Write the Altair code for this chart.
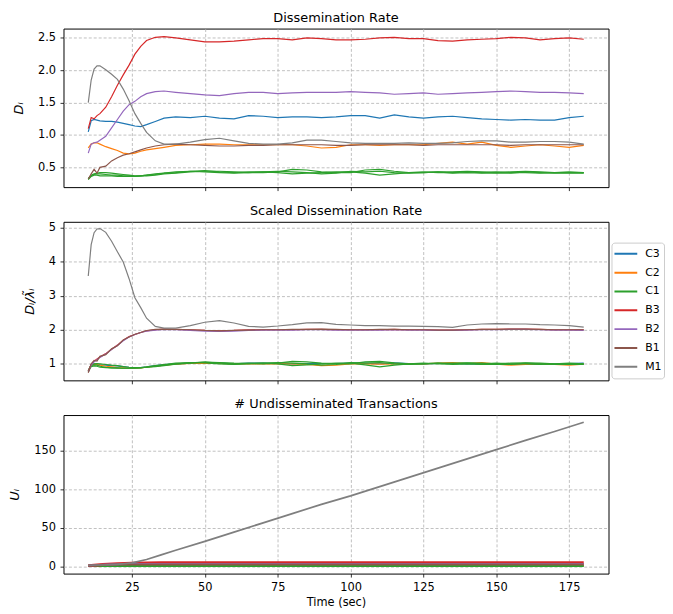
import altair as alt
import pandas as pd

# ---------------- data ----------------
T = [10, 11, 12, 13, 14, 16, 18, 20, 22, 24, 26, 28, 30, 33, 36,
     40, 45, 50, 55, 60, 65, 70, 75, 80, 85, 90, 95, 100, 105, 110, 115,
     120, 125, 130, 135, 140, 145, 150, 155, 160, 165, 170, 175, 180]

# Dissemination rate D_i
D_C3 = [1.05, 1.22, 1.24, 1.23, 1.22, 1.21, 1.21, 1.20, 1.18, 1.16, 1.14, 1.13, 1.16, 1.21, 1.26,
        1.28, 1.27, 1.29, 1.26, 1.25, 1.30, 1.29, 1.27, 1.28, 1.28, 1.27, 1.28, 1.30, 1.30, 1.26,
        1.31, 1.28, 1.26, 1.28, 1.29, 1.27, 1.25, 1.24, 1.23, 1.24, 1.23, 1.23, 1.27, 1.29]
D_C2 = [0.80, 0.86, 0.88, 0.88, 0.86, 0.82, 0.79, 0.76, 0.72, 0.71, 0.72, 0.75, 0.77, 0.79, 0.81,
        0.84, 0.85, 0.86, 0.86, 0.85, 0.85, 0.85, 0.85, 0.85, 0.83, 0.80, 0.81, 0.85, 0.85, 0.84,
        0.85, 0.85, 0.85, 0.87, 0.89, 0.86, 0.89, 0.84, 0.81, 0.83, 0.85, 0.83, 0.81, 0.84]
D_C1a = [0.32, 0.38, 0.40, 0.41, 0.42, 0.42, 0.41, 0.40, 0.39, 0.38, 0.37, 0.37, 0.37, 0.38, 0.40,
         0.41, 0.43, 0.44, 0.44, 0.43, 0.42, 0.42, 0.43, 0.47, 0.46, 0.43, 0.42, 0.42, 0.46, 0.47,
         0.44, 0.42, 0.42, 0.43, 0.43, 0.44, 0.43, 0.42, 0.43, 0.44, 0.43, 0.42, 0.42, 0.42]
D_C1b = [0.33, 0.37, 0.39, 0.40, 0.40, 0.39, 0.38, 0.38, 0.37, 0.37, 0.36, 0.37, 0.38, 0.39, 0.41,
         0.42, 0.44, 0.45, 0.43, 0.42, 0.43, 0.43, 0.42, 0.40, 0.41, 0.42, 0.43, 0.43, 0.41, 0.38,
         0.40, 0.42, 0.43, 0.42, 0.42, 0.43, 0.42, 0.43, 0.42, 0.42, 0.41, 0.42, 0.43, 0.42]
D_C1c = [0.31, 0.36, 0.38, 0.38, 0.37, 0.37, 0.37, 0.36, 0.36, 0.36, 0.36, 0.37, 0.38, 0.40, 0.41,
         0.43, 0.44, 0.43, 0.42, 0.41, 0.42, 0.43, 0.44, 0.43, 0.42, 0.40, 0.41, 0.44, 0.43, 0.44,
         0.42, 0.41, 0.42, 0.43, 0.41, 0.42, 0.41, 0.41, 0.41, 0.43, 0.42, 0.41, 0.41, 0.41]
D_B3 = [1.10, 1.27, 1.25, 1.30, 1.33, 1.43, 1.59, 1.77, 1.93, 2.08, 2.25, 2.37, 2.46, 2.51, 2.52,
        2.50, 2.47, 2.44, 2.44, 2.45, 2.47, 2.49, 2.49, 2.47, 2.50, 2.49, 2.47, 2.47, 2.48, 2.50,
        2.51, 2.49, 2.49, 2.46, 2.45, 2.47, 2.48, 2.49, 2.51, 2.50, 2.47, 2.49, 2.50, 2.48]
D_B2 = [0.72, 0.86, 0.88, 0.89, 0.92, 0.98, 1.11, 1.24, 1.37, 1.47, 1.52, 1.59, 1.64, 1.67, 1.68,
        1.66, 1.64, 1.62, 1.61, 1.64, 1.66, 1.66, 1.64, 1.65, 1.66, 1.66, 1.66, 1.67, 1.66, 1.65,
        1.63, 1.64, 1.65, 1.63, 1.64, 1.65, 1.66, 1.67, 1.68, 1.67, 1.66, 1.66, 1.65, 1.64]
D_B1 = [0.32, 0.40, 0.47, 0.41, 0.50, 0.52, 0.60, 0.65, 0.69, 0.71, 0.74, 0.77, 0.80, 0.83, 0.85,
        0.86, 0.85, 0.84, 0.83, 0.83, 0.84, 0.84, 0.85, 0.85, 0.85, 0.85, 0.84, 0.84, 0.85, 0.85,
        0.85, 0.85, 0.84, 0.85, 0.85, 0.85, 0.85, 0.85, 0.84, 0.85, 0.85, 0.85, 0.85, 0.85]
D_M1 = [1.50, 1.85, 2.02, 2.07, 2.07, 2.01, 1.94, 1.86, 1.71, 1.53, 1.33, 1.18, 1.04, 0.91, 0.86,
        0.86, 0.89, 0.93, 0.95, 0.91, 0.87, 0.86, 0.86, 0.88, 0.92, 0.92, 0.90, 0.88, 0.87, 0.87,
        0.87, 0.88, 0.87, 0.87, 0.88, 0.90, 0.91, 0.91, 0.89, 0.89, 0.90, 0.90, 0.89, 0.86]

# Scaled dissemination rate D_i / lambda_i
S_C3 = [0.80, 0.98, 1.00, 0.99, 0.97, 0.96, 0.95, 0.94, 0.92, 0.90, 0.89, 0.89, 0.91, 0.95, 0.98,
        1.00, 1.02, 1.04, 1.02, 1.00, 1.02, 1.02, 1.01, 1.00, 1.01, 1.01, 1.01, 1.02, 1.02, 1.00,
        1.03, 1.01, 1.00, 1.01, 1.01, 1.00, 0.99, 0.99, 0.98, 0.99, 0.99, 0.99, 1.01, 1.02]
S_C2 = [0.78, 0.96, 0.99, 0.98, 0.96, 0.93, 0.91, 0.89, 0.88, 0.87, 0.87, 0.88, 0.90, 0.93, 0.96,
        0.99, 1.01, 1.02, 1.01, 1.00, 1.00, 1.00, 1.00, 1.00, 0.98, 0.95, 0.96, 1.00, 1.00, 0.99,
        1.00, 1.00, 1.00, 1.02, 1.04, 1.01, 1.04, 0.99, 0.96, 0.98, 1.00, 0.98, 0.96, 0.99]
S_C1a = [0.78, 0.97, 1.00, 1.01, 1.00, 0.98, 0.96, 0.95, 0.92, 0.90, 0.89, 0.89, 0.90, 0.93, 0.96,
         1.00, 1.03, 1.05, 1.04, 1.02, 1.01, 1.00, 1.02, 1.07, 1.06, 1.02, 1.00, 1.00, 1.06, 1.07,
         1.03, 1.00, 1.00, 1.02, 1.02, 1.03, 1.02, 1.00, 1.02, 1.03, 1.02, 1.00, 1.00, 1.00]
S_C1b = [0.80, 0.95, 0.97, 0.96, 0.93, 0.90, 0.88, 0.88, 0.87, 0.87, 0.87, 0.88, 0.90, 0.92, 0.95,
         0.99, 1.02, 1.05, 1.02, 1.00, 1.02, 1.02, 1.00, 0.95, 0.97, 1.00, 1.02, 1.02, 0.97, 0.91,
         0.96, 1.00, 1.02, 1.00, 1.00, 1.02, 1.00, 1.02, 1.00, 1.00, 0.98, 1.00, 1.02, 1.00]
S_C1c = [0.76, 0.92, 0.94, 0.93, 0.90, 0.89, 0.88, 0.87, 0.87, 0.87, 0.88, 0.89, 0.91, 0.95, 0.98,
         1.02, 1.04, 1.03, 1.00, 0.98, 1.00, 1.02, 1.04, 1.02, 1.00, 0.96, 0.98, 1.04, 1.02, 1.04,
         1.00, 0.98, 1.00, 1.02, 0.98, 1.00, 0.98, 0.98, 0.98, 1.02, 1.00, 0.98, 0.98, 0.98]
S_B3 = [0.78, 0.98, 1.08, 1.14, 1.20, 1.30, 1.43, 1.55, 1.69, 1.80, 1.86, 1.92, 1.97, 2.00, 2.02,
        2.01, 2.00, 1.98, 1.97, 1.98, 2.00, 2.00, 2.00, 2.00, 2.01, 2.01, 2.00, 2.00, 2.00, 2.00,
        2.01, 2.00, 2.00, 1.99, 1.99, 2.00, 2.01, 2.01, 2.02, 2.02, 2.01, 2.00, 2.00, 2.00]
S_B2 = [0.76, 0.96, 1.06, 1.12, 1.19, 1.29, 1.42, 1.54, 1.68, 1.79, 1.86, 1.92, 1.96, 1.99, 2.01,
        2.00, 1.98, 1.96, 1.95, 1.96, 1.98, 1.99, 1.99, 1.99, 2.00, 2.00, 1.99, 1.99, 1.99, 1.99,
        2.00, 1.99, 1.99, 1.98, 1.98, 1.99, 2.00, 2.00, 2.01, 2.01, 2.00, 1.99, 1.99, 1.98]
S_B1 = [0.74, 1.00, 1.10, 1.08, 1.22, 1.27, 1.44, 1.53, 1.70, 1.79, 1.87, 1.92, 1.98, 2.01, 2.02,
        2.01, 2.00, 1.98, 1.97, 1.98, 1.99, 2.00, 2.00, 2.01, 2.01, 2.02, 2.01, 2.00, 2.00, 2.01,
        2.01, 2.00, 2.00, 1.99, 1.99, 2.00, 2.01, 2.01, 2.02, 2.02, 2.01, 2.00, 2.00, 2.00]
S_M1 = [3.58, 4.50, 4.85, 4.96, 4.97, 4.86, 4.60, 4.29, 3.99, 3.50, 2.94, 2.65, 2.34, 2.10, 2.05,
        2.05, 2.12, 2.22, 2.27, 2.20, 2.10, 2.08, 2.11, 2.15, 2.20, 2.21, 2.16, 2.14, 2.12, 2.12,
        2.11, 2.11, 2.10, 2.09, 2.07, 2.14, 2.17, 2.18, 2.17, 2.17, 2.15, 2.14, 2.12, 2.08]

# Undisseminated transactions U_i
T_U = [10, 15, 20, 25, 30, 35, 40, 50, 60, 70, 80, 90, 100, 110, 120, 130, 140, 150, 160, 170, 180]
U_M1 = [1.5, 1.8, 2.5, 4.5, 9, 15, 21, 32.5, 44.5, 56.5, 68.5, 80.5, 91.5, 103.5, 115.5,
        127.5, 139.5, 151.5, 163.5, 175, 187]
U_B3 = [1.0, 2.5, 3.6, 4.2, 4.5, 4.6, 4.6, 4.6, 4.6, 4.6, 4.6, 4.6, 4.6, 4.6, 4.6, 4.6, 4.6, 4.6, 4.6, 4.6, 4.6]
U_B2 = [1.0, 2.2, 2.8, 3.0, 3.0, 3.0, 3.0, 3.0, 3.0, 3.0, 3.0, 3.0, 3.0, 3.0, 3.0, 3.0, 3.0, 3.0, 3.0, 3.0, 3.0]
U_B1 = [0.8, 1.8, 2.3, 2.5, 2.5, 2.5, 2.5, 2.5, 2.5, 2.5, 2.5, 2.5, 2.5, 2.5, 2.5, 2.5, 2.5, 2.5, 2.5, 2.5, 2.5]
U_C3 = [0.8, 1.0, 1.2, 1.2, 1.2, 1.2, 1.2, 1.2, 1.2, 1.2, 1.2, 1.2, 1.2, 1.2, 1.2, 1.2, 1.2, 1.2, 1.2, 1.2, 1.2]
U_C2 = [0.8, 1.0, 1.0, 1.0, 1.0, 1.0, 1.0, 1.0, 1.0, 1.0, 1.0, 1.0, 1.0, 1.0, 1.0, 1.0, 1.0, 1.0, 1.0, 1.0, 1.0]
U_C1 = [0.5, 0.5, 0.5, 0.5, 0.5, 0.5, 0.5, 0.5, 0.5, 0.5, 0.5, 0.5, 0.5, 0.5, 0.5, 0.5, 0.5, 0.5, 0.5, 0.5, 0.5]

CLASSES = ["C3", "C2", "C1", "B3", "B2", "B1", "M1"]
COLORS = ["#1f77b4", "#ff7f0e", "#2ca02c", "#d62728", "#9467bd", "#8c564b", "#7f7f7f"]
X_TICKS = [25, 50, 75, 100, 125, 150, 175]


def frame(times, series):
    rows = []
    for cls, node, vals in series:
        assert len(vals) == len(times), (cls, node, len(vals))
        for t, v in zip(times, vals):
            rows.append({"t": t, "v": v, "cls": cls, "node": node})
    return pd.DataFrame(rows)


df_d = frame(T, [("C3", "a", D_C3), ("C2", "a", D_C2), ("C1", "a", D_C1a), ("C1", "b", D_C1b),
                 ("C1", "c", D_C1c), ("B3", "a", D_B3), ("B2", "a", D_B2), ("B1", "a", D_B1),
                 ("M1", "a", D_M1)])
df_s = frame(T, [("C3", "a", S_C3), ("C2", "a", S_C2), ("C1", "a", S_C1a), ("C1", "b", S_C1b),
                 ("C1", "c", S_C1c), ("B3", "a", S_B3), ("B2", "a", S_B2), ("B1", "a", S_B1),
                 ("M1", "a", S_M1)])
df_u = frame(T_U, [("C3", "a", U_C3), ("C2", "a", U_C2), ("C1", "a", U_C1), ("B3", "a", U_B3),
                   ("B2", "a", U_B2), ("B1", "a", U_B1), ("M1", "a", U_M1)])

FONT = "DejaVu Sans"
W, H = 550, 160


def panel(df, title, ytitle, ydomain, yticks, yfmt, show_x, legend, widths):
    xaxis = alt.Axis(values=X_TICKS, format="d", labels=show_x, ticks=True,
                     title="Time (sec)" if show_x else None)
    layers = []
    for cls in CLASSES:
        layers.append(
            alt.Chart(df)
            .transform_filter(alt.datum.cls == cls)
            .mark_line(strokeWidth=widths.get(cls, 1.2), clip=True)
            .encode(
                x=alt.X("t:Q", scale=alt.Scale(domain=[1.5, 188.5], nice=False, zero=False),
                        axis=xaxis),
                y=alt.Y("v:Q", scale=alt.Scale(domain=ydomain, nice=False, zero=False),
                        axis=alt.Axis(values=yticks, format=yfmt, title=ytitle)),
                color=alt.Color("cls:N", scale=alt.Scale(domain=CLASSES, range=COLORS),
                                legend=legend),
                detail="node:N",
            )
        )
    return alt.layer(*layers).properties(
        width=W, height=H,
        title=alt.TitleParams(title, fontSize=13, font=FONT, fontWeight="normal",
                              color="#000", offset=4),
    )


legend_mid = alt.Legend(title=None, orient="none", legendX=553, legendY=21,
                        symbolType="stroke", symbolSize=529, symbolStrokeWidth=2,
                        labelFont=FONT, labelFontSize=11, labelColor="#000",
                        strokeColor="#cccccc", fillColor="white", padding=2,
                        cornerRadius=3, clipHeight=18.6, rowPadding=0, labelOffset=7)

p1 = panel(df_d, "Dissemination Rate", "Dᵢ", [0.195, 2.645], [0.5, 1.0, 1.5, 2.0, 2.5],
           ".1f", False, None, {})
p2 = panel(df_s, "Scaled Dissemination Rate", "Dᵢ/λ̃ᵢ", [0.515, 5.17], [1, 2, 3, 4, 5],
           "d", False, legend_mid, {})
p3 = panel(df_u, "# Undisseminated Transactions", "Uᵢ", [-9.35, 196.4], [0, 50, 100, 150],
           "d", True, None, {"C3": 2, "C2": 2, "C1": 2, "B3": 3, "B2": 2, "B1": 2, "M1": 1.7})

chart = (
    alt.vconcat(p1, p2, p3, spacing=12)
    .resolve_scale(color="independent")
    .properties(padding={"left": 0, "top": 0, "right": 0, "bottom": 0})
    .configure_view(stroke="#000", strokeWidth=1)
    .configure_axis(
        labelFont=FONT, labelFontSize=11.5, labelColor="#000",
        titleFont=FONT, titleFontSize=11.5, titleColor="#000", titleFontWeight="normal",
        grid=True, gridColor="#b0b0b0", gridDash=[3, 2], gridWidth=0.8,
        domain=False, tickColor="#000", tickSize=3.5, tickWidth=0.8,
        labelPadding=4.5,
    )
    .configure_axisY(titleFontStyle="italic", titleFontSize=13, titlePadding=12)
    .configure_axisX(titlePadding=4)
)

chart.save("out.html", embed_options={"renderer": "svg", "actions": False})
